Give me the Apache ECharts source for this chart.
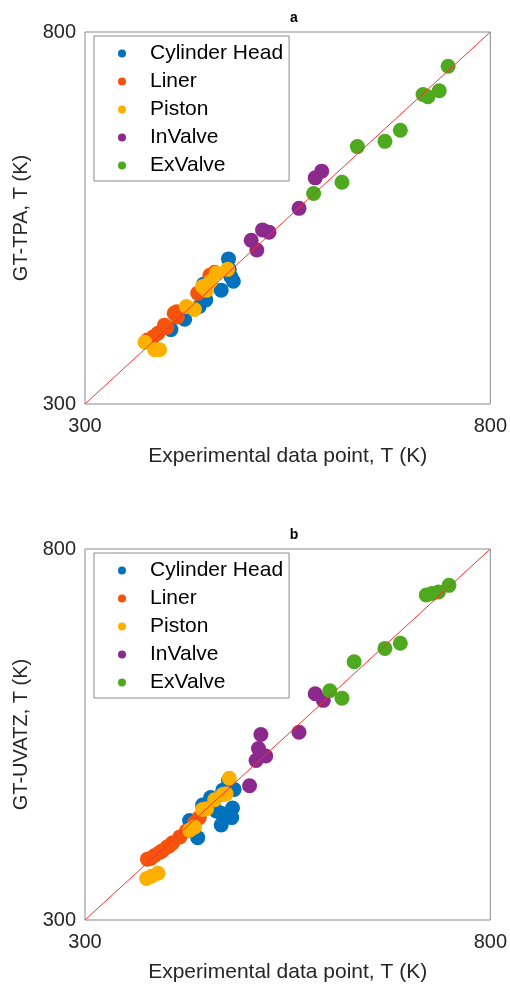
<!DOCTYPE html>
<html>
<head>
<meta charset="utf-8">
<script src="https://cdn.jsdelivr.net/npm/echarts@6/dist/echarts.min.js"></script>
<style>
  html, body { margin: 0; padding: 0; background: #fff; }
  #chart { width: 510px; height: 984px; }
</style>
</head>
<body>
<div id="chart"></div>
<script>
// names + colours
var parts = ['Cylinder Head', 'Liner', 'Piston', 'InValve', 'ExValve'];
var colors = ['#0072BD', '#F5530C', '#FDB000', '#8B2A8C', '#4EA91E'];

// panel a : experimental (x) vs GT-TPA (y)
var headA = [[477,495],[483,465],[480,471],[468,453],[449,440],[441,431],[423,414],[406,400],[446,461],[478,481]];
var linerA = [[377,386],[384,390],[390,395],[398,406],[401,403],[410,422],[413,424],[414,417],[439,449],[454,473],[460,477]];
var pistonA = [[374,383],[386,373],[392,373],[425,431],[435,427],[445,458],[450,453],[455,465],[462,476],[476,481]];
var inValveA = [[592,613],[584,604],[564,563],[519,534],[527,531],[505,520],[512,507]];
var exValveA = [[748,754],[717,716],[723,713],[737,721],[689,668],[670,653],[636,646],[617,598],[582,583]];

// panel b : experimental (x) vs GT-UVATZ (y)
var headB = [[477,488],[470,475],[484,476],[482,451],[481,438],[468,428],[445,455],[429,434],[439,411],[468,444],[462,447],[455,465]];
var linerB = [[377,382],[381,383],[386,387],[392,391],[395,393],[401,398],[404,400],[408,404],[417,412],[425,420],[435,431],[441,438]];
var pistonB = [[376,356],[382,359],[390,363],[429,421],[435,425],[445,449],[450,450],[460,462],[470,469],[474,470],[478,491]];
var inValveB = [[584,605],[594,596],[564,553],[517,550],[514,531],[511,515],[523,521],[503,481]];
var exValveB = [[749,751],[736,742],[728,740],[721,738],[689,673],[670,666],[632,648],[617,599],[602,609]];

var diag = [[300,300],[800,800]];
var axisMin = 300, axisMax = 800;

var font = 'Liberation Sans, Arial, Helvetica, sans-serif';

var panels = [
  { title: 'a', ylab: 'GT-TPA, T (K)', top: 32, h: 372, data: [headA, linerA, pistonA, inValveA, exValveA] },
  { title: 'b', ylab: 'GT-UVATZ, T (K)', top: 549, h: 374, data: [headB, linerB, pistonB, inValveB, exValveB] }
];

var option = {
  backgroundColor: '#fff',
  animation: false,
  title: [], grid: [], xAxis: [], yAxis: [], legend: [], series: []
};

panels.forEach(function (p, k) {
  option.title.push({
    text: p.title, left: 289, top: p.top - 26, textAlign: 'center',
    textStyle: { fontFamily: font, fontSize: 14, fontWeight: 'bold', color: '#000' }
  });
  option.grid.push({
    left: 85, top: p.top, width: 407, height: p.h,
    show: true, borderColor: '#8a8a8a', borderWidth: 1, backgroundColor: '#fff'
  });
  var axisCommon = {
    gridIndex: k, type: 'value', min: axisMin, max: axisMax, interval: 500,
    axisLine: { show: false }, axisTick: { show: false }, splitLine: { show: false },
    nameLocation: 'middle',
    nameTextStyle: { fontFamily: font, fontSize: 20, color: '#262626' },
    axisLabel: { fontFamily: font, fontSize: 20, color: '#262626' }
  };
  option.xAxis.push(Object.assign({}, axisCommon, {
    name: 'Experimental data point, T (K)', nameGap: 42,
    nameTextStyle: { fontFamily: font, fontSize: 21, color: '#262626' },
    axisLabel: Object.assign({}, axisCommon.axisLabel, { margin: 12 })
  }));
  option.yAxis.push(Object.assign({}, axisCommon, {
    name: p.ylab, nameGap: 39,
    axisLabel: Object.assign({}, axisCommon.axisLabel, { margin: 9 })
  }));
  option.legend.push({
    data: parts.map(function (n, i) { return { name: n + '#' + k, itemStyle: { color: colors[i] } }; }),
    formatter: function (name) { return name.split('#')[0]; },
    orient: 'vertical', left: 94, top: p.top + 4,
    icon: 'circle', itemWidth: 8, itemHeight: 8, itemGap: 7,
    padding: [7, 6, 5, 24],
    borderColor: '#8a8a8a', borderWidth: 1, backgroundColor: '#fff',
    textStyle: { fontFamily: font, fontSize: 21, color: '#000', lineHeight: 20, padding: [0, 0, 0, 19] },
    selectedMode: false
  });
  parts.forEach(function (n, i) {
    option.series.push({
      name: n + '#' + k, type: 'scatter', xAxisIndex: k, yAxisIndex: k,
      data: p.data[i], symbolSize: 15,
      itemStyle: { color: colors[i], opacity: 1 }
    });
  });
  option.series.push({
    name: 'diag' + k, type: 'line', xAxisIndex: k, yAxisIndex: k,
    data: diag, showSymbol: false, symbol: 'none', z: 5,
    lineStyle: { color: '#ff3030', width: 1 }
  });
});

var chart = echarts.init(document.getElementById('chart'));
chart.setOption(option);
</script>
</body>
</html>
